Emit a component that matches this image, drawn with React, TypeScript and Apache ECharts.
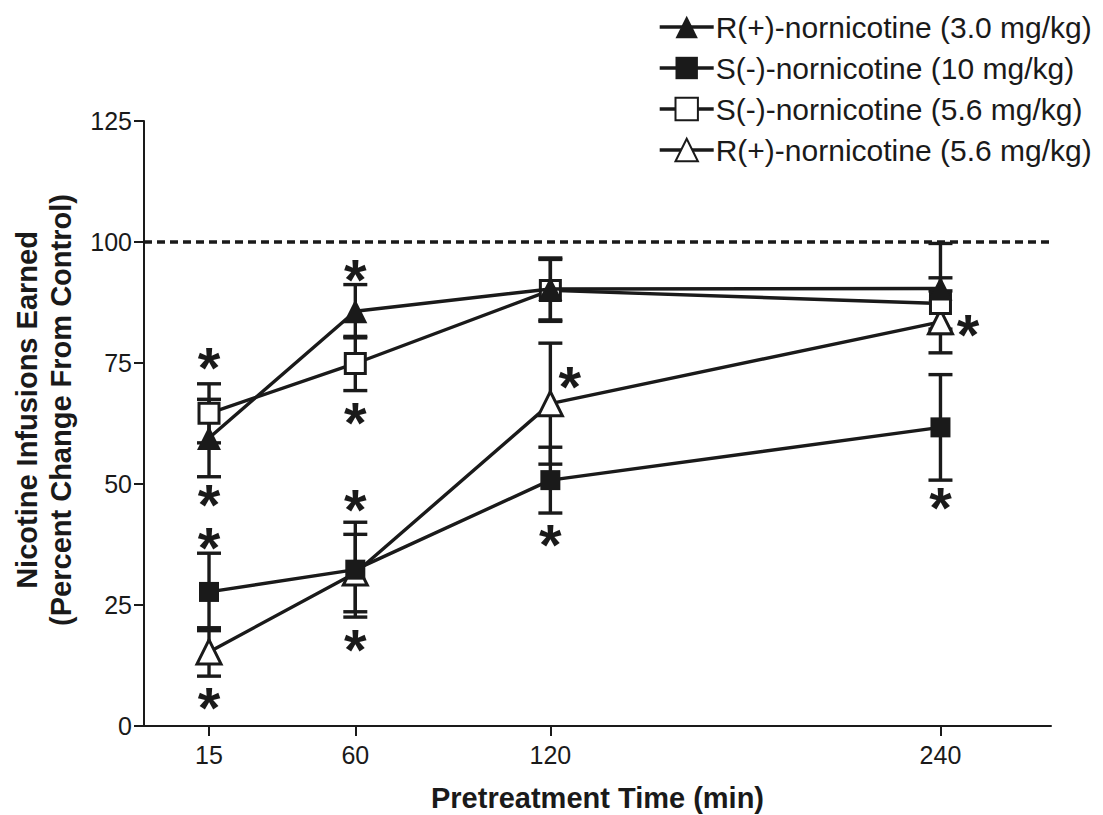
import React, { useEffect, useRef } from "react";
import * as echarts from "echarts";

const times = [15, 60, 120, 240];
const xTicks = [15, 60, 120, 240];

const r30Mean = [59.5, 85.7, 90.3, 90.4];
const r30Err = [8, 5.5, 6.4, 9.3];
const s10Mean = [27.7, 32.3, 50.8, 61.7];
const s10Err = [8, 9.8, 6.8, 10.9];
const s56Mean = [64.6, 74.9, 90.0, 87.3];
const s56Err = [6.1, 5.6, 6.4, 5.3];
const r56Mean = [15.3, 31.6, 66.6, 83.5];
const r56Err = [5, 8, 12.5, 6.4];

const asteriskX = [15, 15, 15, 15, 60, 60, 60, 60, 126, 120, 248.5, 240];
const asteriskY = [76, 47.7, 38.7, 5.7, 94.2, 64.5, 46.6, 17.7, 72.1, 39.4, 82.8, 47];

const controlLevel = 100;

const names = [
  "R(+)-nornicotine (3.0 mg/kg)",
  "S(-)-nornicotine (10 mg/kg)",
  "S(-)-nornicotine (5.6 mg/kg)",
  "R(+)-nornicotine (5.6 mg/kg)",
];

const INK = "#1a1a1a";
const FONT = "'Liberation Sans', Arial, Helvetica, sans-serif";
const LW = 3.4;

function errorSeries(means: number[], errs: number[], z: number) {
  return {
    type: "custom",
    z,
    silent: true,
    clip: false,
    data: times.map((t, i) => [t, means[i], errs[i]]),
    encode: { x: 0, y: 1 },
    renderItem: (params: any, api: any) => {
      const x = api.value(0);
      const m = api.value(1);
      const e = api.value(2);
      const top = api.coord([x, m + e]);
      const bot = api.coord([x, m - e]);
      const hw = 12;
      const style = { stroke: INK, lineWidth: LW };
      return {
        type: "group",
        children: [
          { type: "line", shape: { x1: top[0], y1: top[1], x2: bot[0], y2: bot[1] }, style },
          { type: "line", shape: { x1: top[0] - hw, y1: top[1], x2: top[0] + hw, y2: top[1] }, style },
          { type: "line", shape: { x1: bot[0] - hw, y1: bot[1], x2: bot[0] + hw, y2: bot[1] }, style },
        ],
      };
    },
  };
}

function lineSeries(name: string, means: number[], symbol: string, size: number, filled: boolean, z: number) {
  return {
    type: "line",
    name,
    z,
    data: times.map((t, i) => [t, means[i]]),
    symbol,
    symbolSize: size,
    showAllSymbol: true,
    lineStyle: { color: INK, width: LW },
    itemStyle: {
      color: filled ? INK : "#ffffff",
      borderColor: INK,
      borderWidth: filled ? 0 : 3,
      opacity: 1,
    },
    emphasis: { disabled: true },
  };
}

export default function App() {
  const ref = useRef<HTMLDivElement>(null);
  useEffect(() => {
    document.body.style.margin = "0";
    const chart = echarts.init(ref.current!, null, { renderer: "svg" });
    const option: any = {
      animation: false,
      backgroundColor: "#ffffff",
      textStyle: { fontFamily: FONT },
      grid: { left: 144, top: 121, right: 52, bottom: 89, containLabel: false, outerBoundsMode: "none" },
      legend: {
        orient: "vertical",
        left: 653,
        top: 7,
        itemWidth: 54,
        itemHeight: 28,
        itemGap: 11,
        data: names,
        selectedMode: false,
        lineStyle: { color: INK, width: LW },
        textStyle: { fontFamily: FONT, fontSize: 30, color: INK, padding: [0, 0, 0, -3] },
      },
      xAxis: {
        type: "value",
        min: -5,
        max: 274,
        name: "Pretreatment Time (min)",
        nameLocation: "middle",
        nameGap: 57,
        nameTextStyle: { fontFamily: FONT, fontSize: 29, fontWeight: "bold", color: INK },
        splitLine: { show: false },
        axisLine: { show: true, onZero: false, lineStyle: { color: INK, width: 2 } },
        axisTick: { show: true, length: 10, customValues: xTicks, lineStyle: { color: INK, width: 2 } },
        axisLabel: { customValues: xTicks, fontSize: 25, color: INK, margin: 16, fontFamily: FONT },
      },
      yAxis: {
        type: "value",
        min: 0,
        max: 125,
        interval: 25,
        splitLine: { show: false },
        axisLine: { show: true, onZero: false, lineStyle: { color: INK, width: 2 } },
        axisTick: { show: true, length: 10, lineStyle: { color: INK, width: 2 } },
        axisLabel: { fontSize: 25, color: INK, margin: 12, fontFamily: FONT },
      },
      graphic: [
        {
          type: "text",
          x: 44,
          y: 410,
          rotation: Math.PI / 2,
          style: {
            text: "Nicotine Infusions Earned\n(Percent Change From Control)",
            fontFamily: FONT,
            fontSize: 29,
            fontWeight: "bold",
            fill: INK,
            align: "center",
            verticalAlign: "middle",
            lineHeight: 34,
          },
        },
      ],
      series: [
        {
          type: "line",
          z: 1,
          silent: true,
          clip: false,
          symbol: "none",
          data: [[-5, controlLevel], [277, controlLevel]],
          lineStyle: { color: INK, width: LW, type: [8, 5] },
        },
        errorSeries(r56Mean, r56Err, 2),
        errorSeries(s56Mean, s56Err, 2),
        errorSeries(s10Mean, s10Err, 2),
        errorSeries(r30Mean, r30Err, 2),
        lineSeries(names[3], r56Mean, "triangle", 24, false, 3),
        lineSeries(names[2], s56Mean, "rect", 20, false, 4),
        lineSeries(names[1], s10Mean, "rect", 20, true, 5),
        lineSeries(names[0], r30Mean, "triangle", 24, true, 6),
        {
          type: "scatter",
          z: 7,
          silent: true,
          symbolSize: 1,
          itemStyle: { color: "rgba(0,0,0,0)", opacity: 1 },
          data: asteriskX.map((x, i) => [x, asteriskY[i]]),
          label: {
            show: true,
            position: "inside",
            formatter: "*",
            fontFamily: FONT,
            fontSize: 58,
            fontWeight: "bold",
            color: INK,
            textBorderWidth: 0,
            lineHeight: 30,
            offset: [0, 9],
          },
        },
      ],
    };
    chart.setOption(option);
    return () => chart.dispose();
  }, []);
  return <div ref={ref} style={{ width: 1103, height: 815 }} />;
}
